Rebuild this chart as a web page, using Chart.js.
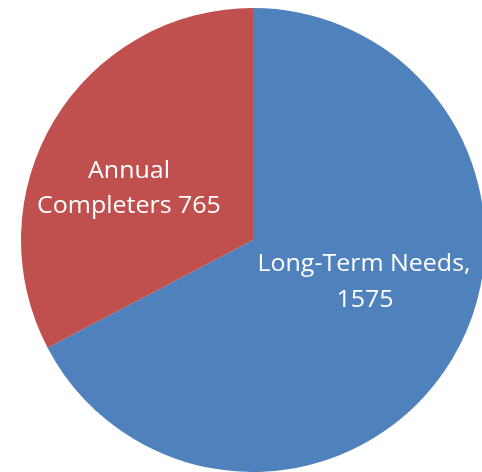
<!DOCTYPE html>
<html lang="en">
<head>
    <meta charset="UTF-8">
    <title>Completers vs Needs</title>
    <style>
        html, body {
            margin: 0;
            padding: 0;
            background: #ffffff;
            overflow: hidden;
        }
        #wrap {
            width: 500px;
            height: 472px;
        }
    </style>
</head>
<body>
    <div id="wrap">
        <canvas id="pieChart" width="500" height="472"></canvas>
    </div>

    <script src="https://cdn.jsdelivr.net/npm/chart.js"></script>
    <script>
        // data
        const categories = ['Long-Term Needs', 'Annual Completers'];
        const values = [1575, 765];
        const labelLines = [
            ['Long-Term Needs,', '1575'],
            ['Annual', 'Completers 765']
        ];
        const colors = ['#4F81BD', '#C0504D'];

        // where each label line sits, relative to the pie centre (x = line centre, y = baseline)
        const labelPos = [
            [[111, 31], [112, 67]],
            [[-124, -62], [-124, -27]]
        ];

        // white labels sitting inside each slice
        const sliceLabels = {
            id: 'sliceLabels',
            afterDatasetsDraw(chart) {
                const c = chart.ctx;
                const meta = chart.getDatasetMeta(0);
                const centre = meta.data[0];
                const fontSize = 24.5;
                // Calibri-like narrow text: squeeze Open Sans horizontally
                c.save();
                c.font = fontSize + 'px "Open Sans", "Liberation Sans", sans-serif';
                const squeeze = 213 / c.measureText(labelLines[0][0]).width;
                c.fillStyle = '#ffffff';
                c.textAlign = 'center';
                c.textBaseline = 'alphabetic';
                labelLines.forEach((lines, i) => {
                    lines.forEach((txt, j) => {
                        const x = centre.x + labelPos[i][j][0];
                        const y = centre.y + labelPos[i][j][1];
                        c.save();
                        c.translate(x, y);
                        c.scale(squeeze, 1);
                        c.fillText(txt, 0, 0);
                        c.restore();
                    });
                });
                c.restore();
            }
        };

        const ctx = document.getElementById('pieChart').getContext('2d');
        const pieChart = new Chart(ctx, {
            type: 'pie',
            data: {
                labels: categories,
                datasets: [{
                    data: values,
                    backgroundColor: colors,
                    borderWidth: 0
                }]
            },
            options: {
                responsive: false,
                animation: false,
                layout: {
                    padding: { left: 21, right: 15, top: 8, bottom: 0 }
                },
                plugins: {
                    legend: { display: false },
                    tooltip: { enabled: false }
                }
            },
            plugins: [sliceLabels]
        });
    </script>
</body>
</html>
